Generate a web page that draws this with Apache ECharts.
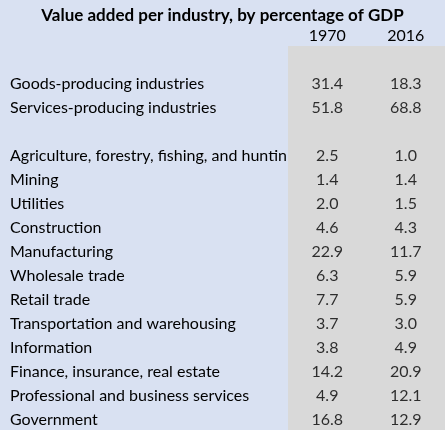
<!DOCTYPE html>
<html><head><meta charset="utf-8">
<script src="https://cdn.jsdelivr.net/npm/echarts@6/dist/echarts.min.js"></script>
<style>html,body{margin:0;padding:0;background:#D9E1F2;}#c{width:445px;height:430px;}</style>
</head><body><div id="c"></div>
<script>
const years = ['1970', '2016'];
const rows = ['', 'Goods-producing industries', 'Services-producing industries', '',
  'Agriculture, forestry, fishing, and hunting', 'Mining', 'Utilities', 'Construction',
  'Manufacturing', 'Wholesale trade', 'Retail trade', 'Transportation and warehousing',
  'Information', 'Finance, insurance, real estate', 'Professional and business services', 'Government'];
const values1970 = [null, 31.4, 51.8, null, 2.5, 1.4, 2.0, 4.6, 22.9, 6.3, 7.7, 3.7, 3.8, 14.2, 4.9, 16.8];
const values2016 = [null, 18.3, 68.8, null, 1.0, 1.4, 1.5, 4.3, 11.7, 5.9, 5.9, 3.0, 4.9, 20.9, 12.1, 12.9];

const FONT = 'Lato';
const FS = 16;
function build(vals, col) {
  const out = [];
  vals.forEach((v, i) => { if (v !== null) out.push([col, i, v]); });
  return out;
}
const chart = echarts.init(document.getElementById('c'));
chart.setOption({
  backgroundColor: '#D9E1F2',
  title: {
    text: 'Value added per industry, by percentage of GDP',
    left: 'center', top: 2,
    textStyle: { fontFamily: FONT, fontSize: 17, fontWeight: 'bold', color: '#000' }
  },
  grid: { left: 288, right: -4, top: 46, bottom: -2, show: true, backgroundColor: '#D9D9D9', borderWidth: 0 },
  xAxis: {
    type: 'category', data: years, position: 'top',
    axisLine: { show: false }, axisTick: { show: false }, splitLine: { show: false },
    axisLabel: { fontFamily: FONT, fontSize: FS, color: '#000', margin: 2 }
  },
  yAxis: {
    type: 'category', data: rows.map((r, i) => r === '' ? 'blank' + i : r), inverse: true,
    axisLine: { show: false }, axisTick: { show: false }, splitLine: { show: false },
    axisLabel: {
      fontFamily: FONT, fontSize: FS, color: '#000', align: 'left', margin: 278,
      width: 278, overflow: 'truncate', ellipsis: '', verticalAlign: 'top', lineHeight: 4,
      formatter: v => v.startsWith('blank') ? '' : v
    }
  },
  series: [
    { type: 'scatter', data: build(values1970, 0), symbolSize: 0, silent: true,
      label: { show: true, position: 'inside', offset: [0, 2], fontFamily: FONT, fontSize: FS, color: '#000',
        formatter: p => p.value[2].toFixed(1) } },
    { type: 'scatter', data: build(values2016, 1), symbolSize: 0, silent: true,
      label: { show: true, position: 'inside', offset: [0, 2], fontFamily: FONT, fontSize: FS, color: '#000',
        formatter: p => p.value[2].toFixed(1) } }
  ]
});
</script></body></html>
